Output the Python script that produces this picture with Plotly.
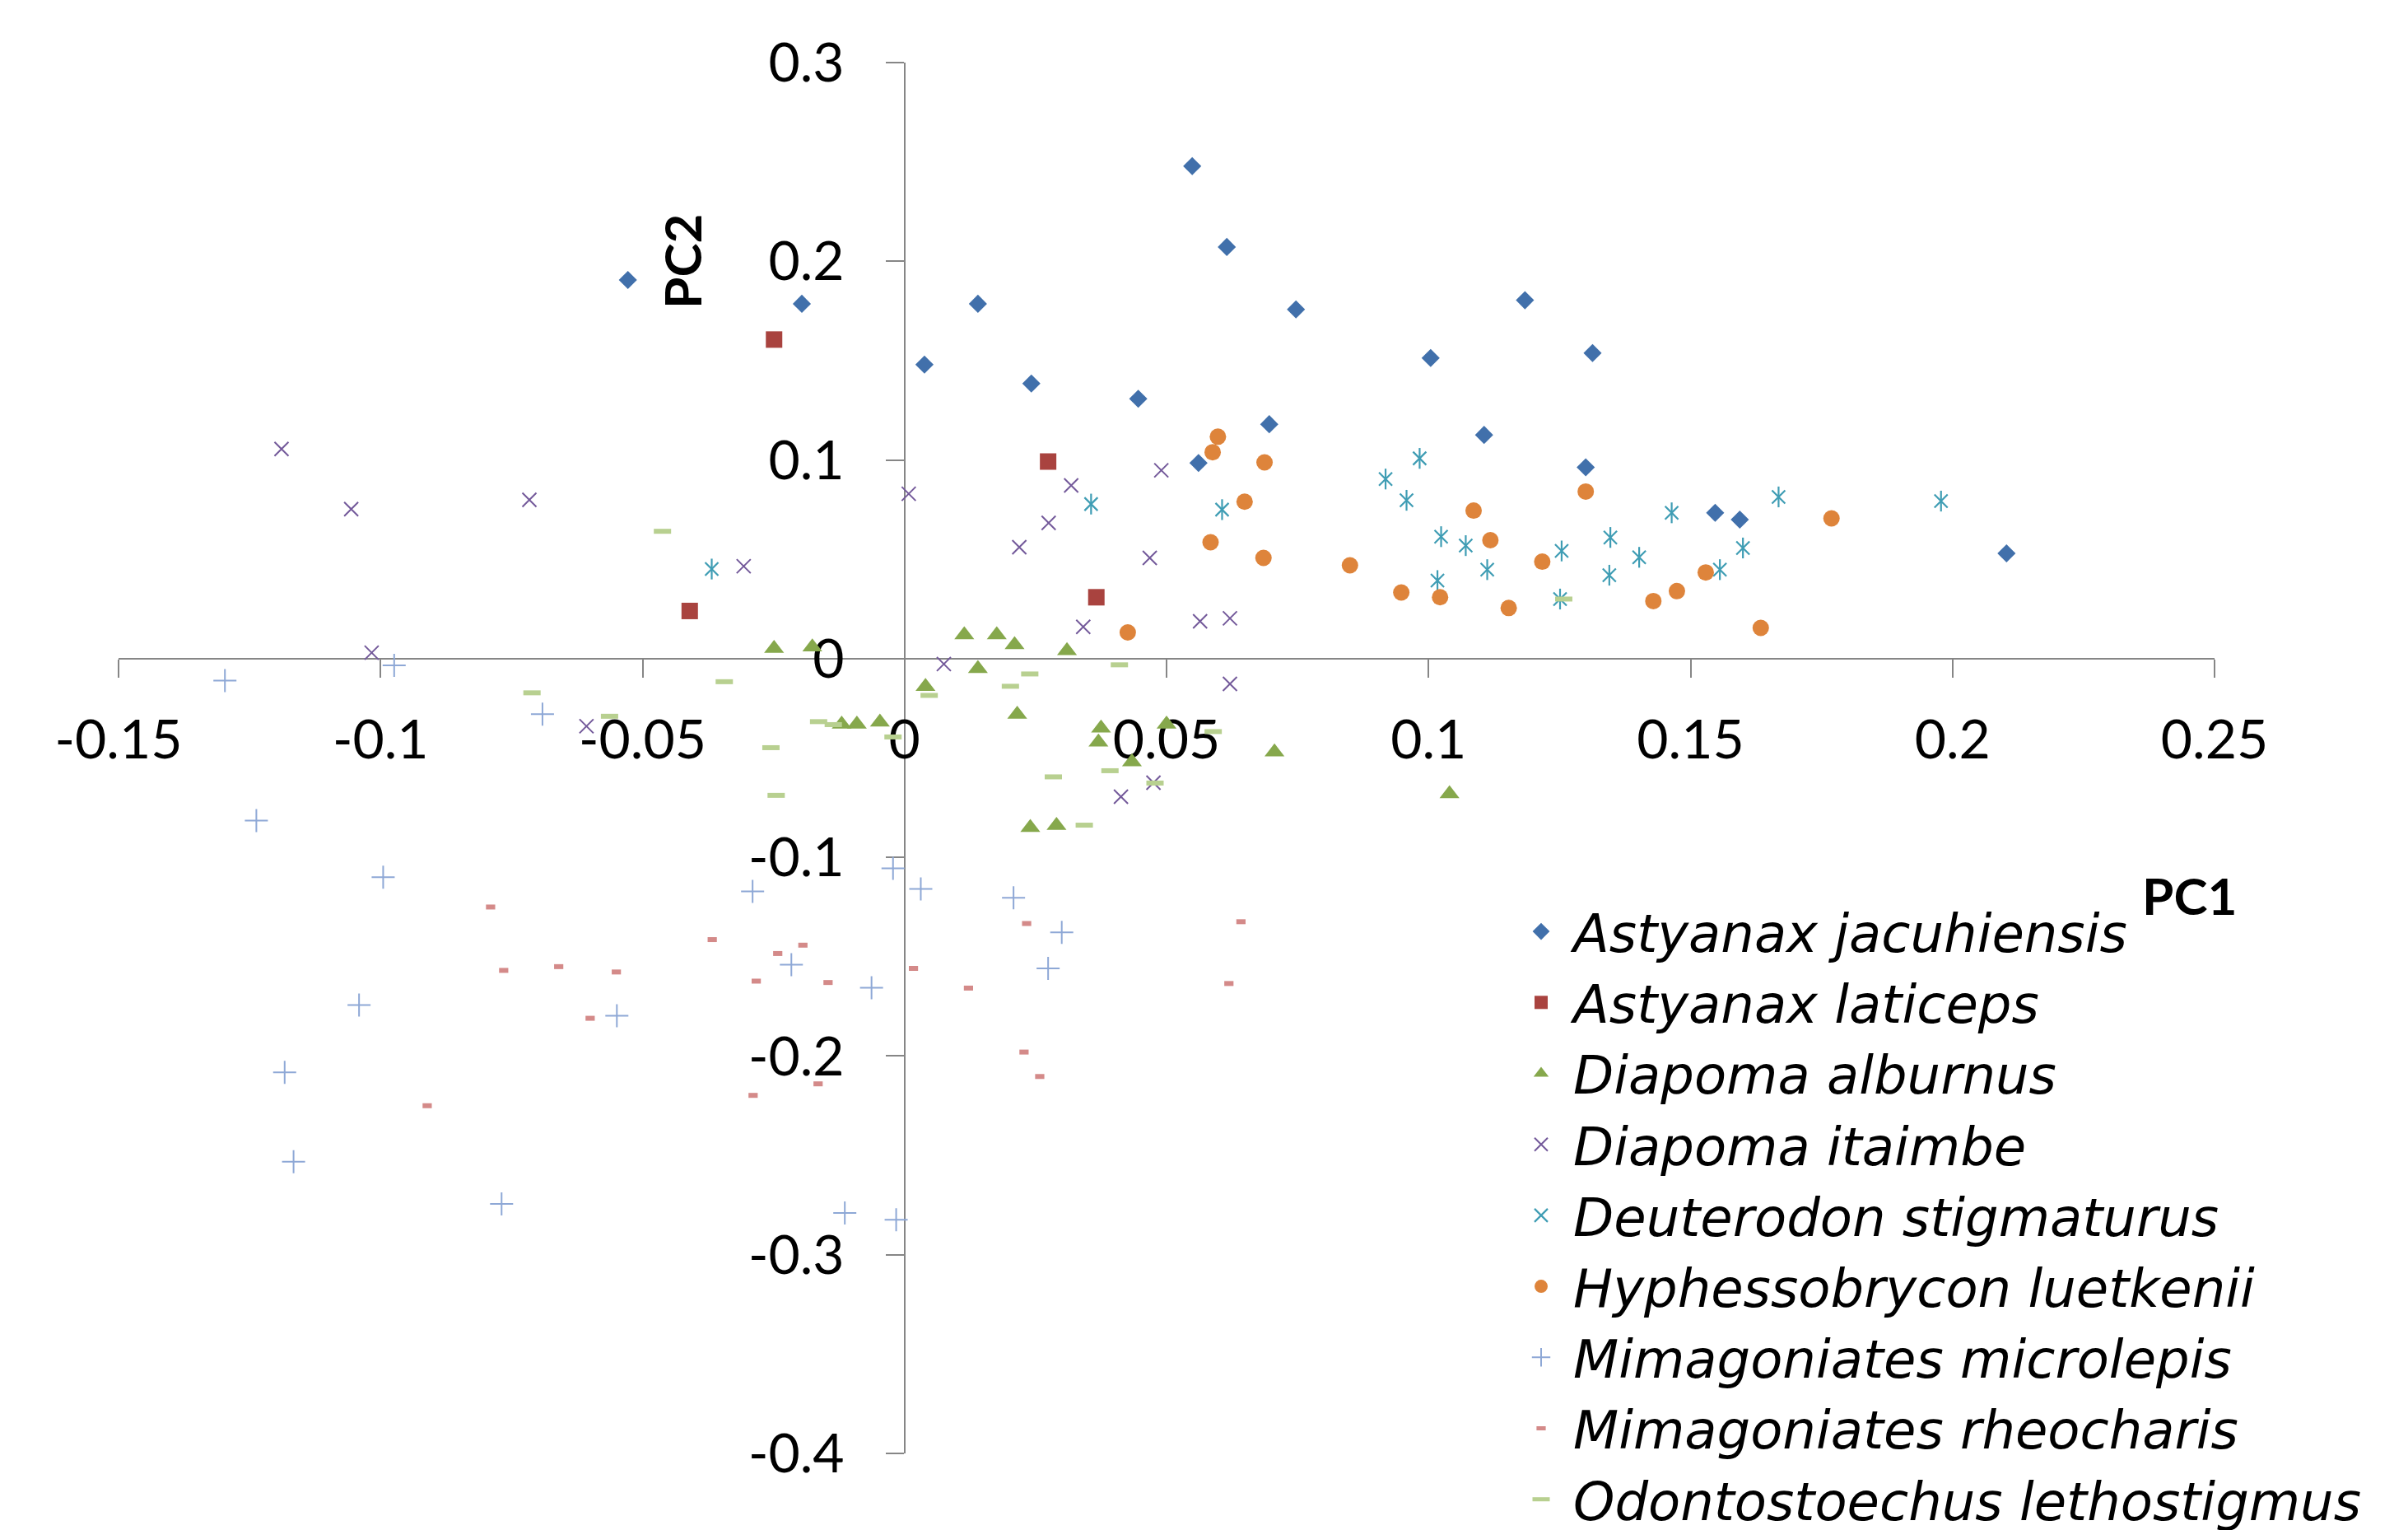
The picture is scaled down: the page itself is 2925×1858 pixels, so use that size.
import plotly.graph_objects as go

W, H = 2925, 1858
OFF = 8  # page body margin in the browser
# target plot-area edges on screen: left 144, right 2690, top 76, bottom 1765
ML, MT = 144 - OFF, 76 - OFF
MR, MB = W - 2690 + OFF, H - 1765 + OFF

# ---------------- data ----------------
species = ["Astyanax jacuhiensis", "Astyanax laticeps", "Diapoma alburnus", "Diapoma itaimbe",
           "Deuterodon stigmaturus", "Hyphessobrycon luetkenii", "Mimagoniates microlepis",
           "Mimagoniates rheocharis", "Odontostoechus lethostigmus"]

jac_x = [-0.0528, -0.0196, 0.0038, 0.014, 0.0242, 0.0446, 0.0549, 0.0615, 0.0561, 0.0696,
         0.0747, 0.1004, 0.1106, 0.1184, 0.1313, 0.130, 0.1547, 0.1594, 0.2103]
jac_y = [0.1906, 0.1786, 0.148, 0.1786, 0.1385, 0.1308, 0.2479, 0.2072, 0.0985, 0.118,
         0.1758, 0.1513, 0.1126, 0.1804, 0.1538, 0.0963, 0.0734, 0.070, 0.053]

lat_x = [-0.0249, -0.041, 0.0274, 0.0366]
lat_y = [0.1606, 0.024, 0.0992, 0.0309]

alb_x = [-0.0249, -0.0176, 0.004, 0.0114, 0.014, 0.0176, 0.021, 0.0215, 0.031, -0.0120,
         -0.0091, -0.0047, 0.024, 0.029, 0.0375, 0.037, 0.0434, 0.050, 0.0706, 0.104]
alb_y = [0.0051, 0.0058, -0.014, 0.012, -0.005, 0.012, 0.007, -0.028, 0.004, -0.033,
         -0.033, -0.032, -0.085, -0.084, -0.035, -0.042, -0.052, -0.033, -0.047, -0.068]

ita_x = [-0.1189, -0.1056, -0.0716, -0.1017, -0.0607, -0.0307, 0.0008, 0.0075, 0.0219, 0.0275,
         0.0318, 0.0341, 0.0468, 0.049, 0.0413, 0.0475, 0.0564, 0.0621, 0.0621]
ita_y = [0.1055, 0.0753, 0.0799, 0.003, -0.034, 0.0465, 0.083, -0.0027, 0.0561, 0.0683,
         0.0872, 0.016, 0.0507, 0.0948, -0.0695, -0.0624, 0.0188, 0.0203, -0.0127]

stg_x = [-0.0368, 0.0356, 0.0606, 0.0918, 0.0958, 0.0983, 0.1024, 0.1071, 0.1017, 0.1112,
         0.1254, 0.1251, 0.1347, 0.1345, 0.1402, 0.1464, 0.1556, 0.160, 0.1668, 0.1978]
stg_y = [0.0451, 0.0778, 0.075, 0.0904, 0.0797, 0.1008, 0.0614, 0.0569, 0.0393, 0.0448,
         0.0542, 0.030, 0.061, 0.042, 0.051, 0.0734, 0.0448, 0.0557, 0.0814, 0.0793]

lue_x = [0.0426, 0.0598, 0.0588, 0.0687, 0.0649, 0.0584, 0.0685, 0.085, 0.0948, 0.1022,
         0.1086, 0.1118, 0.1153, 0.1217, 0.130, 0.1429, 0.1474, 0.1529, 0.1634, 0.1769]
lue_y = [0.0132, 0.1117, 0.1039, 0.0988, 0.079, 0.0586, 0.0507, 0.047, 0.0333, 0.0309,
         0.0745, 0.0596, 0.0255, 0.0488, 0.0841, 0.029, 0.034, 0.0434, 0.0155, 0.0706]

mic_x = [-0.1297, -0.0974, -0.0691, -0.1237, -0.0995, -0.1041, -0.1183, -0.1166, -0.0769, -0.0549,
         -0.029, -0.0216, -0.0063, -0.0022, 0.0031, 0.0208, 0.030, 0.0274, -0.0114, -0.0016]
mic_y = [-0.011, -0.0034, -0.0279, -0.0815, -0.110, -0.1743, -0.2082, -0.2532, -0.2744, -0.1797,
         -0.1171, -0.154, -0.1656, -0.1055, -0.1159, -0.1204, -0.1378, -0.1559, -0.279, -0.2824]

rhe_x = [-0.079, -0.0765, -0.066, -0.055, -0.060, -0.0911, -0.0367, -0.0194, -0.0242, -0.0283,
         -0.0146, 0.0017, 0.0122, 0.0233, 0.0642, 0.0619, 0.0228, 0.0258, -0.0165, -0.0289]
rhe_y = [-0.125, -0.1569, -0.155, -0.1577, -0.181, -0.225, -0.1414, -0.1442, -0.1484, -0.1623,
         -0.163, -0.1559, -0.1658, -0.1333, -0.1324, -0.1635, -0.198, -0.2103, -0.214, -0.2198]

let_x = [-0.0462, -0.0711, -0.0344, -0.0563, -0.0255, -0.0245, -0.0164, -0.0136, -0.0022, 0.0047,
         0.0202, 0.0239, 0.041, 0.0589, 0.0392, 0.0284, 0.0478, 0.0343, 0.1258]
let_y = [0.0641, -0.0172, -0.0116, -0.029, -0.0448, -0.0688, -0.0317, -0.0332, -0.0394, -0.0185,
         -0.0139, -0.0077, -0.0031, -0.0367, -0.0564, -0.0595, -0.0626, -0.0838, 0.030]

x_ticks = [-0.15, -0.1, -0.05, 0, 0.05, 0.1, 0.15, 0.2, 0.25]
x_ticktext = ["-0.15", "-0.1", "-0.05", "0", "0.05", "0.1", "0.15", "0.2", "0.25"]
y_ticks = [-0.4, -0.3, -0.2, -0.1, 0, 0.1, 0.2, 0.3]
y_ticktext = ["-0.4", "-0.3", "-0.2", "-0.1", "0", "0.1", "0.2", "0.3"]
x_range = [-0.15, 0.25]
y_range = [-0.4, 0.3]

# ---------------- styles ----------------
C_JAC, C_LAT, C_ALB, C_ITA = "#4170AB", "#A9433F", "#86A84C", "#73599A"
C_STG, C_LUE, C_MIC, C_RHE, C_LET = "#3F9DB4", "#DE843B", "#8EA8D6", "#D48A89", "#B8D090"

FONT = "Lato"
LEG_FONT = "DejaVu Sans"
fig = go.Figure()

def add(name, xs, ys, marker, showlegend=True, group=None):
    fig.add_trace(go.Scatter(x=xs, y=ys, mode="markers", name="<i>" + name + "</i>",
                             marker=marker, showlegend=showlegend,
                             legendgroup=group or name, hoverinfo="skip"))

add(species[0], jac_x, jac_y, dict(symbol="diamond", size=17, color=C_JAC))
add(species[1], lat_x, lat_y, dict(symbol="square", size=20, color=C_LAT))
add(species[2], alb_x, alb_y, dict(symbol="triangle-up", size=21, color=C_ALB))
add(species[3], ita_x, ita_y, dict(symbol="x-thin-open", size=17, color=C_ITA,
                                     line=dict(color=C_ITA, width=2)))
add(species[4], stg_x, stg_y, dict(symbol="x-thin-open", size=16, color=C_STG,
                                     line=dict(color=C_STG, width=2.2)))
add(species[4], stg_x, stg_y, dict(symbol="line-ns-open", size=18, color=C_STG,
                                     line=dict(color=C_STG, width=2.2)), showlegend=False)
add(species[5], lue_x, lue_y, dict(symbol="circle", size=20, color=C_LUE))
add(species[6], mic_x, mic_y, dict(symbol="cross-thin-open", size=20, color=C_MIC,
                                     line=dict(color=C_MIC, width=2)))
add(species[7], rhe_x, rhe_y, dict(symbol="line-ew-open", size=8, color=C_RHE,
                                     line=dict(color=C_RHE, width=6)))
add(species[8], let_x, let_y, dict(symbol="line-ew-open", size=15, color=C_LET,
                                     line=dict(color=C_LET, width=6)))

pw, ph = W - ML - MR, H - MT - MB
def px(xs):  # screen pixel -> paper x
    return (xs - OFF - ML) / pw
def py(ys):  # screen pixel -> paper y
    return (H - MB - (ys - OFF)) / ph

axis_common = dict(showgrid=False, zeroline=False, showline=True, linecolor="#868686",
                   linewidth=2, ticks="outside", ticklen=22, tickwidth=2, tickcolor="#868686",
                   tickfont=dict(family=FONT, size=66, color="black"), layer="below traces",
                   anchor="free")

fig.update_layout(
    width=W, height=H,
    margin=dict(l=ML, r=MR, t=MT, b=MB, autoexpand=False),
    paper_bgcolor="white", plot_bgcolor="white",
    xaxis=dict(range=x_range, tickvals=x_ticks, ticktext=x_ticktext,
               position=(0 - y_range[0]) / (y_range[1] - y_range[0]),
               ticklabelstandoff=19, **axis_common),
    yaxis=dict(range=y_range, tickvals=y_ticks, ticktext=y_ticktext,
               position=(0 - x_range[0]) / (x_range[1] - x_range[0]),
               ticklabelstandoff=37, **axis_common),
    legend=dict(x=px(1833), y=py(1083), xanchor="left", yanchor="top",
                font=dict(family=LEG_FONT, size=64, color="black"),
                bgcolor="rgba(0,0,0,0)", tracegroupgap=0, itemsizing="trace",
                itemwidth=68),
    showlegend=True,
    annotations=[
        dict(text="<b>PC1</b>", x=px(2659), y=py(1087), xref="paper", yref="paper",
             showarrow=False, font=dict(family=FONT, size=62, color="black"),
             xanchor="center", yanchor="middle"),
        dict(text="<b>PC2</b>", x=px(828), y=py(318), xref="paper", yref="paper",
             showarrow=False, textangle=-90, font=dict(family=FONT, size=62, color="black"),
             xanchor="center", yanchor="middle"),
    ],
)

fig.write_html("out.html")
